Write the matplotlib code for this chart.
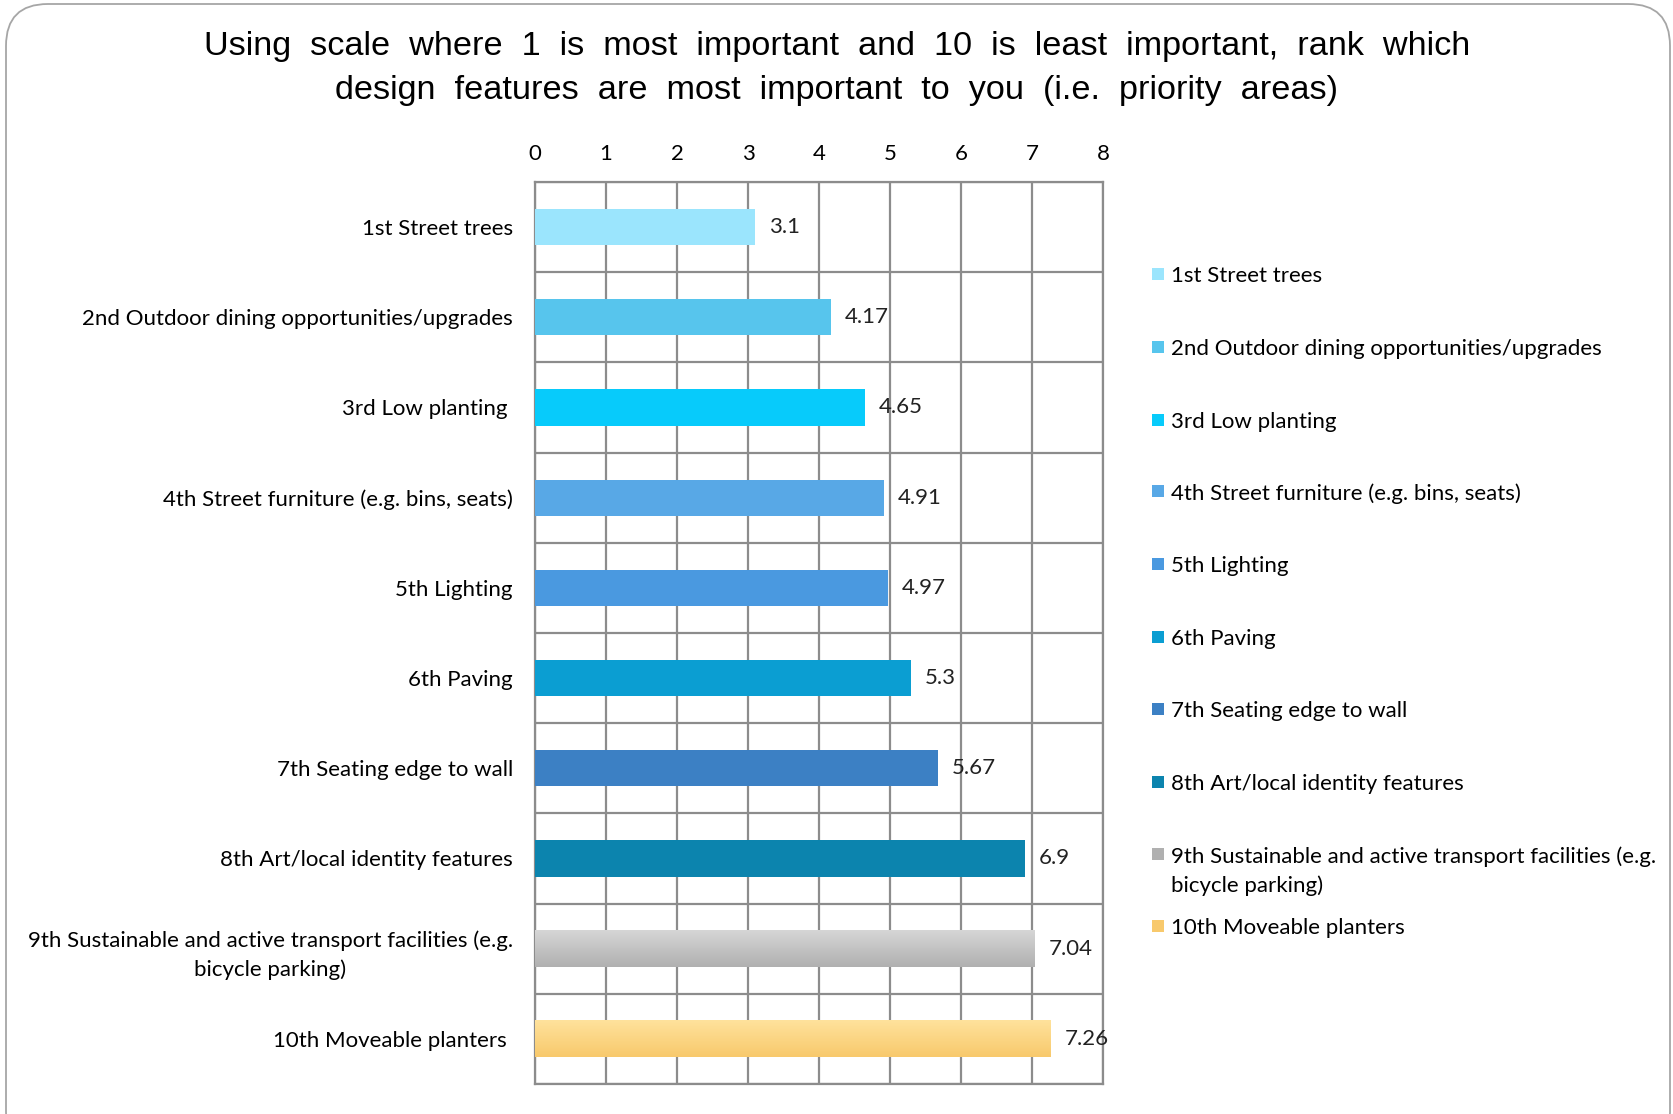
import numpy as np
import matplotlib.pyplot as plt
from matplotlib.patches import FancyBboxPatch, Rectangle
from matplotlib.colors import LinearSegmentedColormap

# dati del grafico
categories = ['1st Street trees',
              '2nd Outdoor dining opportunities/upgrades',
              '3rd Low planting ',
              '4th Street furniture (e.g. bins, seats)',
              '5th Lighting',
              '6th Paving',
              '7th Seating edge to wall',
              '8th Art/local identity features',
              '9th Sustainable and active transport facilities (e.g.\nbicycle parking)',
              '10th Moveable planters ']
legend_labels = ['1st Street trees',
                 '2nd Outdoor dining opportunities/upgrades',
                 '3rd Low planting',
                 '4th Street furniture (e.g. bins, seats)',
                 '5th Lighting',
                 '6th Paving',
                 '7th Seating edge to wall',
                 '8th Art/local identity features',
                 '9th Sustainable and active transport facilities (e.g.\nbicycle parking)',
                 '10th Moveable planters']
values = [3.1, 4.17, 4.65, 4.91, 4.97, 5.3, 5.67, 6.9, 7.04, 7.26]
value_labels = ['3.1', '4.17', '4.65', '4.91', '4.97', '5.3', '5.67', '6.9', '7.04', '7.26']
colors = ['#9BE5FD', '#57C5ED', '#07CBFB', '#58A8E6', '#4A99E0',
          '#0B9ED2', '#3C80C4', '#0C84AE', '#C4C4C4', '#FDD98A']
# gradienti per le ultime due barre (alto -> basso)
gradients = {8: ('#D6D6D6', '#B0B0B0'), 9: ('#FFE29C', '#F8C96C')}
xticks = [0, 1, 2, 3, 4, 5, 6, 7, 8]

W, H = 1674, 1114
FS = 16
fig = plt.figure(figsize=(W / 100, H / 100), dpi=100)
fig.patch.set_facecolor('white')

# bordo arrotondato della slide
border = FancyBboxPatch((6 / W, -40 / H), 1664 / W, 1150 / H,
                        boxstyle='round,pad=0,rounding_size=0.025',
                        transform=fig.transFigure, facecolor='none',
                        edgecolor='#A6A6A6', linewidth=1.3, mutation_aspect=W / H)
fig.patches.append(border)

fig.text(0.5, 1 - 46 / H,
         'Using  scale  where  1  is  most  important  and  10  is  least  important,  rank  which',
         ha='center', va='center', fontsize=24.7, family='Liberation Sans')
fig.text(0.5, 1 - 91 / H,
         'design  features  are  most  important  to  you  (i.e.  priority  areas)',
         ha='center', va='center', fontsize=24.7, family='Liberation Sans')

left, right, top, bottom = 535, 1103, 182, 1084
ax = fig.add_axes([left / W, 1 - bottom / H, (right - left) / W, (bottom - top) / H])

y = np.arange(len(values))
bars = ax.barh(y, values, height=0.4, color=colors, zorder=3)

for i, (c0, c1) in gradients.items():
    cmap = LinearSegmentedColormap.from_list('g%d' % i, [c0, c1])
    grad = np.linspace(0, 1, 64).reshape(-1, 1)
    ax.imshow(grad, cmap=cmap, aspect='auto', zorder=4,
              extent=(0, values[i], y[i] + 0.2, y[i] - 0.2))

for i, v in enumerate(values):
    ax.annotate(value_labels[i], (v, y[i]), xytext=(10, 0), textcoords='offset points',
                va='center', ha='left', fontsize=FS, family='Lato', color='#222222', zorder=5)

ax.set_xlim(0, 8)
ax.set_ylim(len(values) - 0.5, -0.5)
ax.set_xticks(xticks)
ax.set_yticks(y)
ax.set_yticklabels(categories, fontsize=FS, family='Lato', ha='right',
                   multialignment='center', linespacing=1.5)
ax.xaxis.tick_top()
ax.tick_params(axis='x', length=0, pad=13, labelsize=FS)
ax.tick_params(axis='y', length=0, pad=16)
for lab in ax.get_xticklabels():
    lab.set_family('Lato')

ax.set_yticks(np.arange(len(values) + 1) - 0.5, minor=True)
ax.grid(True, axis='x', color='#8C8C8C', linewidth=1.6, zorder=1)
ax.grid(True, axis='y', which='minor', color='#8C8C8C', linewidth=1.6, zorder=1)
ax.tick_params(axis='y', which='minor', length=0)
for s in ax.spines.values():
    s.set_color('#8C8C8C')
    s.set_linewidth(1.6)

# legenda manuale
leg_y = [257, 325, 393, 460, 528, 596, 664, 732, 800, 867]
for i, lab in enumerate(legend_labels):
    yy = leg_y[i] * H / 1043
    c = colors[i] if i not in gradients else gradients[i][1]
    fig.patches.append(Rectangle((1152 / W, 1 - (yy + 6) / H), 12 / W, 12 / H,
                                 transform=fig.transFigure, facecolor=c, edgecolor='none'))
    fig.text(1171 / W, 1 - (yy - 8) / H, lab, ha='left', va='top', fontsize=FS,
             family='Lato', linespacing=1.5)

fig.savefig('out.png', dpi=100)
